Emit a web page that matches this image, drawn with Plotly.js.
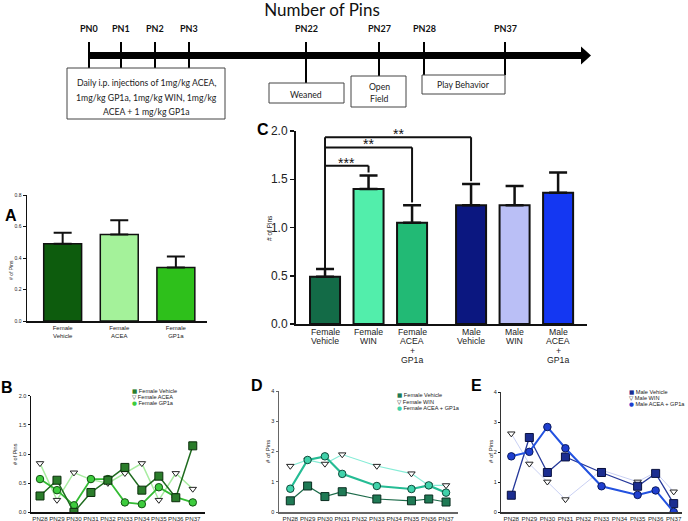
<!DOCTYPE html>
<html><head><meta charset="utf-8">
<script src="https://cdn.plot.ly/plotly-3.0.1.min.js"></script>
<style>html,body{margin:0;padding:0;background:#fff}#chart{width:688px;height:521px}</style>
</head><body><div id="chart"></div>
<script>
// ================= DATA =================
const days = ['PN28','PN29','PN30','PN31','PN32','PN33','PN34','PN35','PN36','PN37'];

// Panel A
const aGroups = ['Female<br>Vehicle','Female<br>ACEA','Female<br>GP1a'];
const aMeans  = [0.49, 0.55, 0.34];
const aSem    = [0.07, 0.09, 0.07];

// Panel C
const cGroups = ['Female<br>Vehicle','Female<br>WIN','Female<br>ACEA<br>+<br>GP1a','Male<br>Vehicle','Male<br>WIN','Male<br>ACEA<br>+<br>GP1a'];
const cMeans  = [0.49, 1.40, 1.05, 1.23, 1.23, 1.36];
const cSem    = [0.08, 0.14, 0.18, 0.22, 0.20, 0.21];
// significance comparisons against Female Vehicle
const sigTo    = [1, 2, 3];
const sigLevel = [1.64, 1.83, 1.935];
const sigLabel = ['***', '**', '**'];

// Panel B (females)
const bVehicle = [0.28, 0.55, 0.00, 0.34, 0.55, 0.77, 0.38, 0.62, 0.25, 1.14];
const bACEA    = [0.84, 0.21, 0.68, 0.56, 0.50, 0.67, 0.84, 0.21, 0.67, 0.40];
const bGP1a    = [0.57, 0.38, 0.12, 0.57, 0.57, 0.17, 0.14, 0.43, 0.26, 0.17];

// Panel D (females)
const dVehicle = [0.37, 0.86, 0.51, 0.67, null, 0.43, null, 0.37, 0.43, 0.33];
const dWIN     = [1.52, 1.72, 1.59, 1.90, null, 1.52, null, 1.27, 0.88, 0.88];
const dCombo   = [0.77, 1.72, 1.84, 1.26, null, 0.86, null, 0.76, 0.88, 0.64];

// Panel E (males)
const eVehicle = [0.56, 2.49, 1.32, 1.84, null, 1.32, null, 0.86, 1.29, 0.28];
const eWIN     = [2.62, 1.61, 1.01, 0.42, null, 1.40, null, 1.01, 1.33, 0.68];
const eCombo   = [1.86, 2.01, 2.84, 2.13, null, 0.86, null, 0.57, 0.72, 0.00];

// Legend labels
const bNames = ['Female Vehicle', 'Female ACEA', 'Female GP1a'];
const dNames = ['Female Vehicle', 'Female WIN', 'Female ACEA + GP1a'];
const eNames = ['Male Vehicle', 'Male WIN', 'Male ACEA + GP1a'];

// Timeline
const tlDays = ['PN0','PN1','PN2','PN3','PN22','PN27','PN28','PN37'];
const tlInjection = ['Daily i.p. injections of 1mg/kg ACEA,', '1mg/kg GP1a, 1mg/kg WIN, 1mg/kg', 'ACEA + 1 mg/kg GP1a'];

// ================= LAYOUT HELPERS =================
const W = 688, H = 521;
const px = x => x / W;
const py = y => 1 - y / H;
const SANS = 'Liberation Sans, Arial, sans-serif';
const TL = 'Lato, Open Sans, sans-serif';

function ax(extra) {
  return Object.assign({
    showline: true, linecolor: '#111', linewidth: 1.5, showgrid: false, zeroline: false,
    ticks: 'outside', ticklen: 3, tickwidth: 1, tickcolor: '#111',
    tickfont: {family: SANS, size: 6, color: '#222'}, fixedrange: true
  }, extra);
}

const traces = [];
const shapes = [];
const ann = [];

// ---------- Panel A ----------
const aColors = ['#0d5c0d', '#a4f29a', '#2ec01b'];
traces.push({
  type: 'bar', x: aGroups.map((g, i) => i), y: aMeans, xaxis: 'x', yaxis: 'y',
  width: 0.67, marker: {color: aColors, line: {color: '#111', width: 1.5}},
  error_y: {type: 'data', symmetric: false, array: aSem, arrayminus: aSem.map(() => 0), color: '#111', thickness: 2, width: 9},
  hoverinfo: 'skip'
});

// ---------- Panel C ----------
const cColors = ['#136b47', '#52eeab', '#22ba75', '#0b1780', '#babff6', '#1437f2'];
const cPos = cGroups.map((g, i) => i + (i >= 3 ? 0.356 : 0));
traces.push({
  type: 'bar', x: cPos, y: cMeans, xaxis: 'x2', yaxis: 'y2',
  width: 0.69, marker: {color: cColors, line: {color: '#111', width: 2}},
  error_y: {type: 'data', symmetric: false, array: cSem, arrayminus: cSem.map(() => 0), color: '#111', thickness: 2.5, width: 9},
  hoverinfo: 'skip'
});
// category labels of C with tight line spacing
cGroups.forEach((g, i) => {
  g.split('<br>').forEach((line, j) => {
    ann.push({xref: 'x2', yref: 'paper', x: cPos[i], y: py(332 + 9.3 * j), text: line, showarrow: false, borderpad: 0,
      xanchor: 'center', yanchor: 'middle', font: {family: SANS, size: 8.7, color: '#222'}});
  });
});
// significance brackets
const lw = {color: '#111', width: 2};
shapes.push({type: 'line', xref: 'x2', yref: 'y2', x0: cPos[0], x1: cPos[0], y0: cMeans[0] + cSem[0], y1: Math.max(...sigLevel), line: lw});
sigTo.forEach((t, k) => {
  shapes.push({type: 'line', xref: 'x2', yref: 'y2', x0: cPos[0], x1: cPos[t], y0: sigLevel[k], y1: sigLevel[k], line: lw});
  shapes.push({type: 'line', xref: 'x2', yref: 'y2', x0: cPos[t], x1: cPos[t], y0: sigLevel[k], y1: cMeans[t] + cSem[t] + 0.03, line: lw});
  ann.push({xref: 'x2', yref: 'y2', x: (cPos[0] + cPos[t]) / 2, y: sigLevel[k], text: sigLabel[k], showarrow: false,
    yanchor: 'bottom', yshift: -7, font: {family: SANS, size: 14, color: '#111'}});
});

// ---------- line panels ----------
function lineTrace(y, xa, ya, lineColor, lineW, symbol, fill, outline, size) {
  return {type: 'scatter', mode: 'lines+markers', x: days, y: y, xaxis: xa, yaxis: ya, connectgaps: true,
    line: {color: lineColor, width: lineW},
    marker: {symbol: symbol, size: size, color: fill, line: {color: outline, width: 1}}, hoverinfo: 'skip'};
}
// B
traces.push(lineTrace(bACEA, 'x3', 'y3', '#a8eca0', 1.5, 'triangle-down', '#ffffff', '#222', 6.5));
traces.push(lineTrace(bGP1a, 'x3', 'y3', '#33bb33', 1.8, 'circle', '#3dcc3d', '#145214', 7.5));
traces.push(lineTrace(bVehicle, 'x3', 'y3', '#1f6b1f', 1.5, 'square', '#2b7d2b', '#0b2e0b', 8));
// D
traces.push(lineTrace(dWIN, 'x4', 'y4', '#86ecd6', 1.2, 'triangle-down', '#ffffff', '#222', 6.5));
traces.push(lineTrace(dVehicle, 'x4', 'y4', '#1d6b4a', 1.2, 'square', '#1f7a55', '#0a2e20', 8));
traces.push(lineTrace(dCombo, 'x4', 'y4', '#25bc94', 2.2, 'circle', '#40d2aa', '#0f4a3a', 7.5));
// E
traces.push(lineTrace(eWIN, 'x5', 'y5', '#c3cbf2', 0.9, 'triangle-down', '#ffffff', '#222', 6.5));
traces.push(lineTrace(eVehicle, 'x5', 'y5', '#26399a', 1.3, 'square', '#1b2d90', '#0a1240', 8));
traces.push(lineTrace(eCombo, 'x5', 'y5', '#2352e0', 2, 'circle', '#1f3fcf', '#0a1a60', 7.5));

// legends drawn as text entries (symbol + label)
function legend(x, ys, symbols, colors, labels) {
  labels.forEach((lab, i) => {
    ann.push({xref: 'paper', yref: 'paper', x: px(x), y: py(ys[i]), xanchor: 'left', yanchor: 'middle', showarrow: false,
      borderpad: 0,
      text: '<span style="color:' + colors[i] + ';font-family:DejaVu Sans">' + symbols[i] + '</span> ' + lab,
      font: {family: SANS, size: 5.6, color: '#222'}});
  });
}
legend(131, [391, 397, 403], ['■', '▽', '●'], ['#2b7d2b', '#222', '#3dcc3d'], bNames);
legend(396, [394.7, 401.5, 408.3], ['■', '▽', '●'], ['#1f7a55', '#222', '#40d2aa'], dNames);
legend(628, [391.7, 398, 404.3], ['■', '▽', '●'], ['#1b2d90', '#222', '#1f3fcf'], eNames);

// axis titles (rotated)
[[11, 270, 5], [15, 454, 5.5], [270, 228, 6.5], [268, 452, 6], [491, 452, 6]].forEach(p => {
  ann.push({xref: 'paper', yref: 'paper', x: px(p[0]), y: py(p[1]), text: '# of Pins', textangle: -90, showarrow: false,
    xanchor: 'center', yanchor: 'middle', font: {family: SANS, size: p[2], color: '#222'}});
});

// panel letters
[['A', 11, 216], ['B', 7, 387], ['C', 263, 129], ['D', 257, 385], ['E', 476, 385]].forEach(p => {
  ann.push({xref: 'paper', yref: 'paper', x: px(p[1]), y: py(p[2]), text: '<b>' + p[0] + '</b>', showarrow: false,
    xanchor: 'center', yanchor: 'middle', font: {family: SANS, size: 16, color: '#000'}});
});

// ---------- Timeline diagram ----------
const tlX = [89, 121, 155, 189, 306, 379, 424, 505];
const tlBottom = [68, 68, 68, 68, 83, 76, 75, 75];
shapes.push({type: 'rect', xref: 'paper', yref: 'paper', x0: px(89), x1: px(582), y0: py(59), y1: py(52), fillcolor: '#000', line: {width: 0}});
shapes.push({type: 'path', xref: 'paper', yref: 'paper',
  path: `M ${px(581)} ${py(46.5)} L ${px(591)} ${py(55.5)} L ${px(581)} ${py(64.5)} Z`, fillcolor: '#000', line: {width: 0}});
tlDays.forEach((d, i) => {
  shapes.push({type: 'line', xref: 'paper', yref: 'paper', x0: px(tlX[i]), x1: px(tlX[i]), y0: py(42), y1: py(tlBottom[i]), line: {color: '#000', width: 2}});
  ann.push({xref: 'paper', yref: 'paper', x: px(tlX[i]), y: py(29), text: '<b>' + d + '</b>', showarrow: false,
    xanchor: 'center', yanchor: 'middle', font: {family: TL, size: 9, color: '#111'}});
});
const boxes = [[67, 225, 68, 119], [269, 344, 83, 103], [351, 406, 76, 107], [422, 505, 75, 94]];
boxes.forEach(b => shapes.push({type: 'rect', xref: 'paper', yref: 'paper', x0: px(b[0]), x1: px(b[1]), y0: py(b[3]), y1: py(b[2]),
  line: {color: '#444', width: 1}, fillcolor: 'rgba(0,0,0,0)'}));
const boxText = [[146, 82, tlInjection[0]], [146, 97, tlInjection[1]], [146, 111, tlInjection[2]],
  [306, 94, 'Weaned'], [379, 86, 'Open'], [379, 98, 'Field'], [463, 85, 'Play Behavior']];
boxText.forEach(t => ann.push({xref: 'paper', yref: 'paper', x: px(t[0]), y: py(t[1]), text: t[2], showarrow: false,
  xanchor: 'center', yanchor: 'middle', font: {family: TL, size: 8.7, color: '#222'}}));

// ================= LAYOUT =================
const smallX = {family: SANS, size: 6.2, color: '#222'};
const layout = {
  width: W, height: H, margin: {l: 0, r: 0, t: 0, b: 0}, paper_bgcolor: '#fff', plot_bgcolor: 'rgba(0,0,0,0)',
  showlegend: false, font: {family: SANS, color: '#222'},
  title: {text: 'Number of Pins', font: {family: TL, size: 17, color: '#111'}, x: px(322), xanchor: 'center', y: py(10), yanchor: 'middle'},
  xaxis: ax({domain: [px(27), px(207)], anchor: 'y', range: [-0.63, 2.55], tickvals: [0, 1, 2], ticktext: aGroups, ticks: ''}),
  yaxis: ax({domain: [py(321), py(195)], anchor: 'x', range: [0, 0.8], dtick: 0.2, tickformat: '.1f', tickfont: {family: SANS, size: 5, color: '#222'}}),
  xaxis2: ax({domain: [px(296), px(587)], anchor: 'y2', range: [-0.667, 6.02], tickvals: cPos, showticklabels: false, ticks: '', linewidth: 2}),
  yaxis2: ax({domain: [py(324), py(131)], anchor: 'x2', range: [0, 2], dtick: 0.5, tickformat: '.1f', linewidth: 2, ticklen: 4, tickwidth: 1.5,
    tickfont: {family: SANS, size: 12, color: '#222'}}),
  xaxis3: ax({domain: [px(31), px(205)], anchor: 'y3', type: 'category', range: [-0.53, 9.72], ticks: '', tickangle: 0, tickfont: smallX}),
  yaxis3: ax({domain: [py(512.3), py(395.7)], anchor: 'x3', range: [0, 2], dtick: 0.5, tickformat: '.1f', ticklen: 2, tickfont: {family: SANS, size: 5.5, color: '#222'}}),
  xaxis4: ax({domain: [px(279), px(458)], anchor: 'y4', type: 'category', range: [-0.653, 9.69], ticks: '', tickangle: 0, linecolor: '#666', tickfont: smallX}),
  yaxis4: ax({domain: [py(512), py(391)], anchor: 'x4', range: [0, 4], dtick: 1, ticklen: 2, linecolor: '#666', tickcolor: '#666', tickfont: {family: SANS, size: 5.5, color: '#222'}}),
  xaxis5: ax({domain: [px(501.3), px(682)], anchor: 'y5', type: 'category', range: [-0.554, 9.46], ticks: '', tickangle: 0, linecolor: '#333', tickfont: smallX}),
  yaxis5: ax({domain: [py(512), py(392.3)], anchor: 'x5', range: [0, 4], dtick: 1, ticklen: 2, linecolor: '#333', tickfont: {family: SANS, size: 5.5, color: '#222'}}),
  shapes: shapes, annotations: ann
};

Plotly.newPlot('chart', traces, layout, {staticPlot: true, displayModeBar: false});
</script></body></html>
